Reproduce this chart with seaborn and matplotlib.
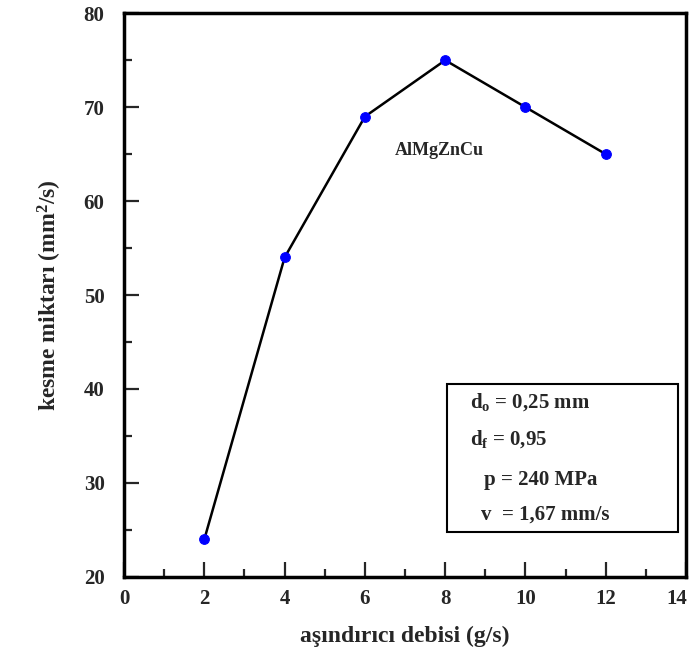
import matplotlib
matplotlib.use('Agg')
import matplotlib.pyplot as plt
import matplotlib.transforms as mtransforms
import seaborn as sns
import pandas as pd
from matplotlib.ticker import MultipleLocator
from matplotlib.patches import Rectangle

# ===== VERİ =====
debi = [2, 4, 6, 8, 10, 12]          # g/s
kesme = [24, 54, 69, 75, 70, 65]     # mm^2/s
x_ticks = [0, 2, 4, 6, 8, 10, 12, 14]
df = pd.DataFrame({'debi': debi, 'kesme': kesme})

sns.set_style('white')
plt.rcParams['font.family'] = ['Liberation Serif', 'DejaVu Serif']
plt.rcParams['font.weight'] = 'bold'
plt.rcParams['mathtext.fontset'] = 'custom'
plt.rcParams['mathtext.rm'] = 'Liberation Serif:bold'
plt.rcParams['mathtext.bf'] = 'Liberation Serif:bold'
plt.rcParams['mathtext.it'] = 'Liberation Serif:bold'

fig = plt.figure(figsize=(6.93, 6.63), dpi=100)
ax = fig.add_axes([0.179, 0.130, 0.811, 0.850])

sns.lineplot(data=df, x='debi', y='kesme', ax=ax, color='black', linewidth=1.8,
             marker='o', markersize=7, markerfacecolor='blue', markeredgecolor='blue')

ax.set_xlim(0, 14)
ax.set_ylim(20, 80)
ax.set_xticks(x_ticks)
ax.xaxis.set_minor_locator(MultipleLocator(1))
ax.yaxis.set_major_locator(MultipleLocator(10))
ax.yaxis.set_minor_locator(MultipleLocator(5))
ax.tick_params(which='major', direction='in', length=11, width=1.6, labelsize=15,
               top=False, right=False, bottom=True, left=True)
ax.tick_params(which='minor', direction='in', length=6, width=1.6,
               top=False, right=False, bottom=True, left=True)
ax.tick_params(axis='x', pad=9)
ax.tick_params(axis='y', pad=14)
for lab in ax.get_xticklabels() + ax.get_yticklabels():
    lab.set_fontweight('bold')
# son etiket (14) kenardan taşmasın: biraz sola kaydır
son = ax.xaxis.get_major_ticks()[-1].label1
son.set_transform(son.get_transform() +
                  mtransforms.ScaledTranslation(-7 / 72, 0, fig.dpi_scale_trans))
for sp in ax.spines.values():
    sp.set_linewidth(2.5)
    sp.set_color('black')

ax.set_xlabel('aşındırıcı debisi (g/s)', fontsize=17, fontweight='bold', labelpad=12)
ax.set_ylabel('kesme miktarı (mm$^2$/s)', fontsize=17, fontweight='bold', labelpad=14)

ax.text(7.85, 65.4, 'AlMgZnCu', fontsize=13, fontweight='bold', ha='center', va='center')

# parametre kutusu
ax.add_patch(Rectangle((0.575, 0.079), 0.41, 0.263, transform=ax.transAxes,
                       fill=False, edgecolor='black', linewidth=1.5))
ax.text(0.615, 0.31, 'd$_\\mathregular{o}$ = 0,25 mm', transform=ax.transAxes,
        fontsize=15, fontweight='bold', va='center')
ax.text(0.615, 0.245, 'd$_\\mathregular{f}$ = 0,95', transform=ax.transAxes,
        fontsize=15, fontweight='bold', va='center')
ax.text(0.64, 0.172, 'p = 240 MPa', transform=ax.transAxes,
        fontsize=15, fontweight='bold', va='center')
ax.text(0.635, 0.11, 'v  = 1,67 mm/s', transform=ax.transAxes,
        fontsize=15, fontweight='bold', va='center')

fig.savefig('out.png', dpi=100)
